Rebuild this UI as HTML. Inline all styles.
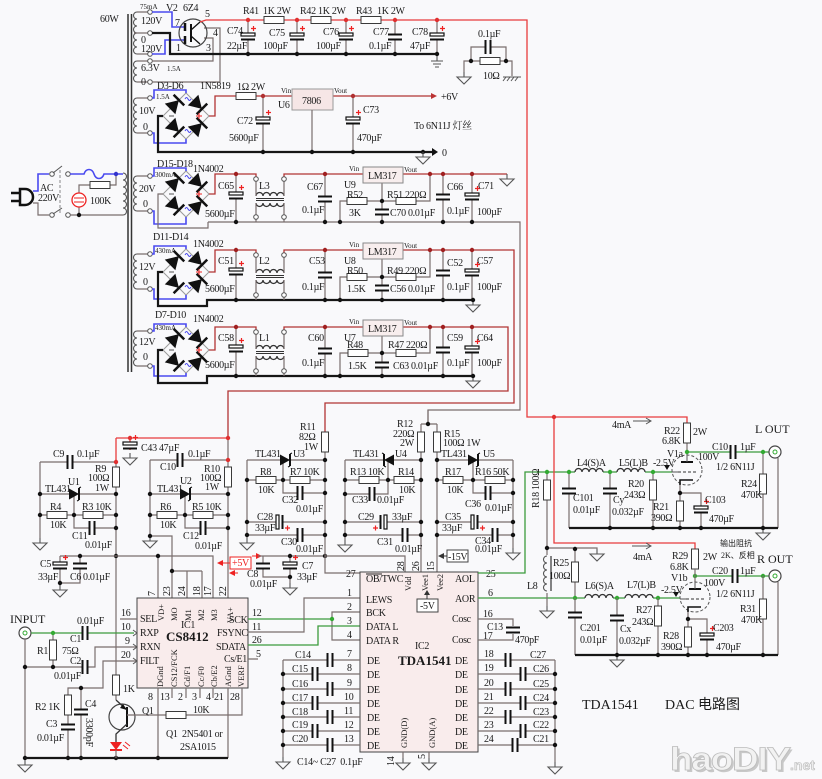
<!DOCTYPE html>
<html><head><meta charset="utf-8"><title>TDA1541 DAC</title>
<style>
html,body{margin:0;padding:0;background:#f9f9fb;width:822px;height:779px;overflow:hidden}
svg{display:block}
text{font-family:"Liberation Serif","Noto Serif CJK SC",serif;font-size:10px;fill:#1a1a1a;letter-spacing:-0.3px}
text.sm{font-size:7px;letter-spacing:0}
text.md{font-size:8.5px;letter-spacing:0}
text.lg{font-size:12px;letter-spacing:0}
text.bd{font-size:13px;font-weight:bold;letter-spacing:0}
text.ti{font-size:14px;letter-spacing:0}
.w{fill:none;stroke:#7a6e6e;stroke-width:1.2}
.k{fill:none;stroke:#161616;stroke-width:2.2}
.r{fill:none;stroke:#e83c3c;stroke-width:1.3}
.dr{fill:none;stroke:#b23434;stroke-width:1.3}
.b{fill:none;stroke:#4a4af0;stroke-width:1.6}
.g{fill:none;stroke:#3c9c3c;stroke-width:1.3}
.cl{fill:none;stroke:#555;stroke-width:1.1}
</style></head><body>
<svg xmlns="http://www.w3.org/2000/svg" width="822" height="779" viewBox="0 0 822 779">
<defs>
<g id="rh"><rect x="-10" y="-3.5" width="20" height="7" fill="#fff" stroke="#3a3a3a"/></g>
<g id="rv"><rect x="-3.5" y="-10" width="7" height="20" fill="#fff" stroke="#3a3a3a"/></g>
<g id="cv"><rect x="-7" y="-2.5" width="14" height="5" fill="#f9f9fb"/><path d="M-7,-2.5H7M-7,2.5H7" stroke="#111" stroke-width="2"/></g>
<g id="ch"><rect x="-2.5" y="-7" width="5" height="14" fill="#f9f9fb"/><path d="M-2.5,-7V7M2.5,-7V7" stroke="#111" stroke-width="2"/></g>
<g id="ev"><rect x="-7" y="-4" width="14" height="7" fill="#f9f9fb"/><rect x="-7" y="-4" width="14" height="3" fill="#fff" stroke="#111" stroke-width="1.2"/><path d="M-7,2.5H7" stroke="#111" stroke-width="2"/><path d="M3,-8.5h5M5.5,-11v5" stroke="#e22" stroke-width="1.2"/></g>
<g id="eh"><rect x="-4" y="-7" width="7" height="14" fill="#f9f9fb"/><rect x="-4" y="-7" width="3" height="14" fill="#fff" stroke="#111" stroke-width="1.2"/><path d="M2.5,-7V7" stroke="#111" stroke-width="2"/><path d="M5,6h5M7.5,3.5v5" stroke="#e22" stroke-width="1.2"/></g>
<g id="gnd"><path d="M0,0V5M-7,5H7L0,12Z" fill="none" stroke="#555" stroke-width="1.1"/></g>
<g id="earth"><path d="M0,0V5M-6,5H6M-4,8H4M-2,11H2" fill="none" stroke="#555" stroke-width="1.1"/></g>
<circle id="tp" r="2.3" fill="#fff" stroke="#555"/>
<g id="di"><path d="M-5,-6L5,0L-5,6Z" fill="#111"/><path d="M5,-6V6" stroke="#111" stroke-width="2"/></g>
<g id="br"><path d="M0,-23L23,0L0,23L-23,0Z" fill="none" stroke="#999"/>
 <use href="#di" transform="translate(-11.5,-11.5) rotate(-45) scale(1.25)"/>
 <use href="#di" transform="translate(11.5,-11.5) rotate(45) scale(1.25)"/>
 <use href="#di" transform="translate(-11.5,11.5) rotate(45) scale(1.25)"/>
 <use href="#di" transform="translate(11.5,11.5) rotate(-45) scale(1.25)"/>
 <path d="M-1,-17q1.5,-3 3,0t3,0M-1,15q1.5,-3 3,0t3,0" fill="none" stroke="#44e"/>
 <path d="M10,0h6M13,-3v6" stroke="#e22"/>
 <path d="M-17,0h5" stroke="#555"/>
</g>
<path id="lh" d="M0,0a3.5,3.5 0 0,1 7,0a3.5,3.5 0 0,1 7,0a3.5,3.5 0 0,1 7,0a3.5,3.5 0 0,1 7,0" fill="none" stroke="#333" stroke-width="1.3"/>
<g id="lc">
 <use href="#lh" transform="translate(-14,-3)"/>
 <use href="#lh" transform="translate(-14,4) scale(1,-1)"/>
 <path d="M-14,-0.5H14M-14,1.5H14" stroke="#333" stroke-width="1"/>
</g>
<g id="tl"><path d="M-5,-5.5L5,0L-5,5.5Z" fill="#111"/><path d="M5,-6V6" stroke="#111" stroke-width="2"/><path d="M5,-6l2,-1M5,6l-2,1" stroke="#111"/></g>
<g id="jk"><circle r="6" fill="#fff" stroke="#444" stroke-width="1.2"/><circle r="2" fill="none" stroke="#3a3"/></g>
<g id="tube"><circle r="15" fill="none" stroke="#555" stroke-dasharray="3,2"/>
 <path d="M-6,-8H6" stroke="#111" stroke-width="2"/><path d="M0,-8V-15" stroke="#555"/>
 <path d="M-9,2H9" stroke="#333" stroke-dasharray="3,2"/><path d="M-15,2H-9" stroke="#555"/>
 <path d="M-7,15V10H6" fill="none" stroke="#111" stroke-width="1.6"/>
</g>
<path id="c3" d="M0,0a3.5,3.5 0 0,0 0,7a3.5,3.5 0 0,0 0,7a3.5,3.5 0 0,0 0,7" fill="none" stroke="#555" stroke-width="1.1"/>
<path id="c5" d="M0,0a3.5,3.5 0 0,0 0,7a3.5,3.5 0 0,0 0,7a3.5,3.5 0 0,0 0,7a3.5,3.5 0 0,0 0,7a3.5,3.5 0 0,0 0,7" fill="none" stroke="#555" stroke-width="1.1"/>
<path id="c6" d="M0,0a3.5,3.5 0 0,0 0,7a3.5,3.5 0 0,0 0,7a3.5,3.5 0 0,0 0,7a3.5,3.5 0 0,0 0,7a3.5,3.5 0 0,0 0,7a3.5,3.5 0 0,0 0,7" fill="none" stroke="#555" stroke-width="1.1"/>
</defs>
<rect width="822" height="779" fill="#f9f9fb"/>

<!-- ============ TRANSFORMER ============ -->
<path d="M128,14V372M131.5,14V372" stroke="#333" stroke-width="1.5" fill="none"/>
<text x="100" y="22">60W</text>
<use href="#c6" x="137" y="12"/><use href="#c3" x="137" y="61"/>
<use href="#c5" x="137" y="98"/><use href="#c5" x="137" y="176"/>
<use href="#c5" x="137" y="254"/><use href="#c5" x="137" y="331"/>
<path class="cl" d="M123,173a3.5,3.5 0 0,1 0,7a3.5,3.5 0 0,1 0,7a3.5,3.5 0 0,1 0,7a3.5,3.5 0 0,1 0,7a3.5,3.5 0 0,1 0,7a3.5,3.5 0 0,1 0,7"/>
<path class="w" d="M137,12H148M134,33H148M137,54H148M137,61H148M137,82H148M137,98H148M137,133H148M137,176H148M137,211H148M137,254H148M137,289H148M137,331H148M137,366H148"/>
<g>
<use href="#tp" x="150" y="12"/><use href="#tp" x="150" y="33"/><use href="#tp" x="150" y="54"/><use href="#tp" x="150" y="61"/><use href="#tp" x="150" y="82"/>
<use href="#tp" x="150" y="98"/><use href="#tp" x="150" y="133"/><use href="#tp" x="150" y="176"/><use href="#tp" x="150" y="211"/>
<use href="#tp" x="150" y="254"/><use href="#tp" x="150" y="289"/><use href="#tp" x="150" y="331"/><use href="#tp" x="150" y="366"/>
</g>
<text class="sm" x="140" y="9">75mA</text>
<text x="141" y="24">120V</text><text x="141" y="43">0</text><text x="141" y="52">120V</text>
<text x="141" y="71">6.3V</text><text class="sm" x="167" y="71">1.5A</text><text x="141" y="85">0</text>

<!-- V2 rectifier tube -->
<text x="166" y="11">V2</text><text x="183" y="11">6Z4</text>
<text x="205" y="17">5</text><text x="175" y="26">7</text><text x="213" y="36">4</text><text x="176" y="51">1</text><text x="206" y="51">3</text>
<path class="b" d="M152,12H172V27H185"/>
<path class="b" d="M152,54H165V40H185"/>
<path class="w" d="M152,61H213V38H204M152,82H220V28H204"/>
<path class="k" d="M152,33H170V54H437"/>
<circle cx="193" cy="33" r="14" fill="none" stroke="#444" stroke-width="1.2"/>
<path d="M185,23V31M185,36V44" stroke="#111" stroke-width="2.5"/>
<path d="M191,24V42" stroke="#111" stroke-width="2"/>
<path d="M191,30L200,22M191,36L200,44" stroke="#111" stroke-width="1.3"/>
<path class="r" d="M200,22L206,20H527V417H687V423"/>
<use href="#rh" x="274" y="20"/><use href="#rh" x="321" y="20"/><use href="#rh" x="371" y="20"/>
<path class="w" d="M248,20V54M297,20V54M346,20V54M395,20V54M437,20V54"/>
<use href="#ev" x="248" y="37"/><use href="#ev" x="297" y="37"/><use href="#ev" x="346" y="37"/><use href="#cv" x="395" y="37"/><use href="#ev" x="437" y="37"/>
<g fill="#e03030"><circle cx="248" cy="20" r="2.2"/><circle cx="297" cy="20" r="2.2"/><circle cx="346" cy="20" r="2.2"/><circle cx="395" cy="20" r="2.2"/><circle cx="437" cy="20" r="2.2"/></g>
<g fill="#111"><circle cx="248" cy="54" r="2.2"/><circle cx="297" cy="54" r="2.2"/><circle cx="346" cy="54" r="2.2"/><circle cx="395" cy="54" r="2.2"/><circle cx="437" cy="54" r="2.2"/></g>
<use href="#earth" x="437" y="56"/>
<text x="243" y="14">R41</text><text x="263" y="14">1K 2W</text>
<text x="300" y="14">R42</text><text x="318" y="14">1K 2W</text>
<text x="356" y="14">R43</text><text x="377" y="14">1K 2W</text>
<text x="227" y="34">C74</text><text x="227" y="49">22µF</text>
<text x="269" y="36">C75</text><text x="263" y="49">100µF</text>
<text x="323" y="35">C76</text><text x="316" y="49">100µF</text>
<text x="373" y="35">C77</text><text x="369" y="49">0.1µF</text>
<text x="412" y="35">C78</text><text x="410" y="49">47µF</text>
<!-- snubber -->
<path class="w" d="M464,72V61H480M500,61H512V76M471,61V47H485M491,47H506V61"/>
<use href="#rh" x="490" y="61"/><use href="#ch" x="488" y="47"/>
<g fill="#111"><circle cx="471" cy="61" r="2.2"/><circle cx="506" cy="61" r="2.2"/></g>
<use href="#gnd" x="464" y="72"/>
<path d="M503,77H521M506,77l-3,4M510,77l-3,4M514,77l-3,4M518,77l-3,4" stroke="#555" fill="none"/>
<text x="478" y="37">0.1µF</text><text x="483" y="79">10Ω</text>

<!-- ============ SECTION 2: 7806 ============ -->
<use href="#br" x="186" y="116"/>
<path class="b" d="M152,98H154V90H186V93"/>
<path class="b" d="M152,133H154V143H186V139"/>
<path class="k" d="M163,116H158V152H432"/>
<path d="M432,148L438,152L432,156Z" fill="#111"/>
<path class="dr" d="M209,116H215V96H236M256,96H292M333,96H431"/>
<path d="M431,93L437,96L431,99Z" fill="#b33"/>
<use href="#rh" x="246" y="96"/>
<rect x="292" y="89" width="41" height="21" fill="#f6e6e6" stroke="#999"/>
<path class="w" d="M263,96V152M353,96V152M312,110V152"/>
<use href="#ev" x="263" y="121"/><use href="#ev" x="353" y="121"/>
<g fill="#b03030"><circle cx="263" cy="96" r="2.2"/><circle cx="353" cy="96" r="2.2"/></g>
<g fill="#111"><circle cx="263" cy="152" r="2.2"/><circle cx="312" cy="152" r="2.2"/><circle cx="353" cy="152" r="2.2"/><circle cx="423" cy="152" r="2.2"/></g>
<use href="#gnd" x="423" y="152"/>
<text x="302" y="104">7806</text>
<text class="sm" x="281" y="93">Vin</text><text x="278" y="108">U6</text><text class="sm" x="334" y="93">Vout</text>
<text x="157" y="89">D3-D6</text><text x="200" y="89">1N5819</text>
<text class="sm" x="156" y="99">1.5A</text>
<text x="139" y="114">10V</text><text x="143" y="130">0</text>
<text x="237" y="90">1Ω 2W</text>
<text x="237" y="124">C72</text><text x="229" y="141">5600µF</text>
<text x="363" y="113">C73</text><text x="357" y="141">470µF</text>
<text x="441" y="100">+6V</text><text x="442" y="156">0</text>
<text x="414" y="129">To 6N11J 灯丝</text>

<!-- ============ AC input ============ -->
<path d="M20,189h5a8,8 0 0,1 0,16h-5Z" fill="none" stroke="#111" stroke-width="2.5"/>
<path d="M11,193H20M11,201H20" stroke="#111" stroke-width="2.5"/>
<path class="b" d="M33,191H38V174H49"/>
<use href="#tp" x="52" y="174"/><path d="M53,173L62,166" stroke="#555"/><use href="#tp" x="68" y="174"/>
<path class="b" d="M70,174H84c2,-6 8,-6 10,0c2,6 8,6 10,0H123"/>
<path class="w" d="M33,203H38V215H49"/>
<use href="#tp" x="52" y="215"/><path d="M53,214L62,208" stroke="#555"/><use href="#tp" x="68" y="215"/>
<path class="w" d="M70,215H123M79,193V185H90M110,185H116V174M79,207V215"/>
<path d="M60,170V214" stroke="#888" stroke-dasharray="3,2"/>
<circle cx="79" cy="200" r="7" fill="#fff" stroke="#e22" stroke-width="1.3"/>
<path d="M74,198H84M74,202H84" stroke="#e22"/>
<use href="#rh" x="100" y="185"/>
<g fill="#111"><circle cx="116" cy="174" r="2.2" fill="#33c"/><circle cx="79" cy="215" r="2.2"/></g>
<text x="40" y="191">AC</text><text x="38" y="201">220V</text><text x="90" y="204">100K</text>

<!-- ============ SECTION 3: U9 (yt=174) ============ -->
<use href="#br" x="186" y="194"/>
<path class="b" d="M152,176H154V168H186V171"/>
<path class="b" d="M152,211H154V224H186V217"/>
<path class="w" d="M163,194H158V228H208V222"/>
<path class="dr" d="M209,194H215V174H256V178M284,178V174H363M403,174H507"/>
<use href="#gnd" x="507" y="174"/>
<use href="#lc" x="270" y="199"/>
<path class="w" d="M256,180V196M256,203V215M284,180V196M284,203V215M256,219V222M284,219V222"/>
<use href="#tp" x="256" y="179"/><use href="#tp" x="256" y="217"/><use href="#tp" x="284" y="179"/><use href="#tp" x="284" y="217"/>
<path class="w" d="M236,174V222M325,174V222M382,183V222M340,222V201H382H430V174M443,174V222M472,174V222M208,222H520V410H428V424"/>
<use href="#ev" x="236" y="196"/><use href="#cv" x="325" y="199"/>
<use href="#rh" x="357" y="201"/><use href="#rh" x="406" y="201"/><use href="#cv" x="382" y="212"/>
<use href="#cv" x="443" y="197"/><use href="#ev" x="472" y="197"/>
<rect x="363" y="167" width="40" height="16" fill="#f8eeee" stroke="#888"/>
<text x="368" y="179">LM317</text>
<g fill="#a02020"><circle cx="236" cy="174" r="2.2"/><circle cx="325" cy="174" r="2.2"/><circle cx="430" cy="174" r="2.2"/><circle cx="443" cy="174" r="2.2"/><circle cx="472" cy="174" r="2.2"/></g>
<g fill="#111"><circle cx="236" cy="222" r="2.2"/><circle cx="325" cy="222" r="2.2"/><circle cx="340" cy="222" r="2.2"/><circle cx="382" cy="222" r="2.2"/><circle cx="443" cy="222" r="2.2"/><circle cx="472" cy="222" r="2.2"/><circle cx="382" cy="201" r="2.2"/></g>
<text x="157" y="167">D15-D18</text><text x="193" y="172">1N4002</text><text class="sm" x="155" y="177">300mA</text>
<text x="139" y="192">20V</text><text x="143" y="207">0</text>
<text x="218" y="189">C65</text><text x="205" y="217">5600µF</text><text x="259" y="189">L3</text>
<text x="307" y="190">C67</text><text x="302" y="213">0.1µF</text>
<text class="sm" x="349" y="171">Vin</text><text class="sm" x="404" y="172">Vout</text>
<text x="344" y="188">U9</text><text x="347" y="198">R52</text><text x="349" y="216">3K</text>
<text x="387" y="198">R51 220Ω</text><text x="390" y="216">C70 0.01µF</text>
<text x="447" y="190">C66</text><text x="447" y="214">0.1µF</text>
<text x="478" y="189">C71</text><text x="477" y="215">100µF</text>

<!-- ============ SECTION 4: U8 (yt=250) ============ -->
<use href="#br" x="186" y="272"/>
<path class="b" d="M152,254H154V246H186V249"/>
<path class="b" d="M152,289H154V299H186V295"/>
<path class="k" d="M163,272H158V306H207V300H473"/>
<use href="#gnd" x="473" y="300"/>
<path class="dr" d="M209,272H215V250H256V254M284,254V250H363M403,250H514V403H325V432"/>
<use href="#lc" x="270" y="276"/>
<path class="w" d="M256,256V273M256,280V293M284,256V273M284,280V293M256,297V300M284,297V300"/>
<use href="#tp" x="256" y="255"/><use href="#tp" x="284" y="255"/><use href="#tp" x="256" y="295"/><use href="#tp" x="284" y="295"/>
<path class="w" d="M236,250V300M325,250V300M382,259V300M340,300V277H382H430V250M443,250V300M472,250V300"/>
<use href="#ev" x="236" y="272"/><use href="#cv" x="325" y="275"/>
<use href="#rh" x="357" y="277"/><use href="#rh" x="406" y="277"/><use href="#cv" x="382" y="288"/>
<use href="#cv" x="443" y="273"/><use href="#ev" x="472" y="273"/>
<rect x="363" y="243" width="40" height="16" fill="#f8eeee" stroke="#888"/>
<text x="368" y="255">LM317</text>
<g fill="#a02020"><circle cx="236" cy="250" r="2.2"/><circle cx="325" cy="250" r="2.2"/><circle cx="430" cy="250" r="2.2"/><circle cx="443" cy="250" r="2.2"/><circle cx="472" cy="250" r="2.2"/></g>
<g fill="#111"><circle cx="236" cy="300" r="2.2"/><circle cx="325" cy="300" r="2.2"/><circle cx="340" cy="300" r="2.2"/><circle cx="382" cy="300" r="2.2"/><circle cx="443" cy="300" r="2.2"/><circle cx="473" cy="300" r="2.2"/><circle cx="382" cy="277" r="2.2"/></g>
<text x="153" y="240">D11-D14</text><text x="193" y="247">1N4002</text><text class="sm" x="155" y="253">430mA</text>
<text x="139" y="270">12V</text><text x="143" y="285">0</text>
<text x="218" y="264">C51</text><text x="205" y="292">5600µF</text><text x="259" y="264">L2</text>
<text x="309" y="264">C53</text><text x="302" y="290">0.1µF</text>
<text class="sm" x="349" y="247">Vin</text><text class="sm" x="404" y="248">Vout</text>
<text x="344" y="264">U8</text><text x="347" y="274">R50</text><text x="347" y="292">1.5K</text>
<text x="387" y="274">R49 220Ω</text><text x="390" y="292">C56 0.01µF</text>
<text x="447" y="266">C52</text><text x="447" y="290">0.1µF</text>
<text x="477" y="264">C57</text><text x="477" y="290">100µF</text>

<!-- ============ SECTION 5: U7 (yt=327) ============ -->
<use href="#br" x="186" y="350"/>
<path class="b" d="M152,331H154V324H186V327"/>
<path class="b" d="M152,366H154V376H186V373"/>
<path class="k" d="M163,350H158V383H207V376H473"/>
<use href="#gnd" x="473" y="376"/>
<path class="dr" d="M209,350H215V327H256V331M284,331V327H363M403,327H508V391H228V438"/>
<use href="#lc" x="270" y="352"/>
<path class="w" d="M256,333V349M256,356V369M284,333V349M284,356V369M256,373V376M284,373V376"/>
<use href="#tp" x="256" y="332"/><use href="#tp" x="284" y="332"/><use href="#tp" x="256" y="371"/><use href="#tp" x="284" y="371"/>
<path class="w" d="M236,327V376M325,327V376M382,336V376M340,376V353H382H430V327M443,327V376M472,327V376"/>
<use href="#ev" x="236" y="349"/><use href="#cv" x="325" y="351"/>
<use href="#rh" x="358" y="353"/><use href="#rh" x="406" y="353"/><use href="#cv" x="382" y="365"/>
<use href="#cv" x="443" y="350"/><use href="#ev" x="472" y="350"/>
<rect x="363" y="320" width="40" height="16" fill="#f8eeee" stroke="#888"/>
<text x="368" y="332">LM317</text>
<g fill="#a02020"><circle cx="236" cy="327" r="2.2"/><circle cx="325" cy="327" r="2.2"/><circle cx="430" cy="327" r="2.2"/><circle cx="443" cy="327" r="2.2"/><circle cx="472" cy="327" r="2.2"/></g>
<g fill="#111"><circle cx="236" cy="376" r="2.2"/><circle cx="325" cy="376" r="2.2"/><circle cx="340" cy="376" r="2.2"/><circle cx="382" cy="376" r="2.2"/><circle cx="443" cy="376" r="2.2"/><circle cx="473" cy="376" r="2.2"/><circle cx="382" cy="353" r="2.2"/></g>
<text x="155" y="318">D7-D10</text><text x="193" y="322">1N4002</text><text class="sm" x="155" y="330">430mA</text>
<text x="139" y="345">12V</text><text x="143" y="360">0</text>
<text x="218" y="341">C58</text><text x="205" y="368">5600µF</text><text x="259" y="341">L1</text>
<text x="308" y="341">C60</text><text x="302" y="366">0.1µF</text>
<text class="sm" x="349" y="324">Vin</text><text class="sm" x="404" y="325">Vout</text>
<text x="344" y="341">U7</text><text x="347" y="348">R48</text><text x="348" y="369">1.5K</text>
<text x="388" y="348">R47 220Ω</text><text x="393" y="369">C63 0.01µF</text>
<text x="447" y="341">C59</text><text x="447" y="366">0.1µF</text>
<text x="477" y="341">C64</text><text x="477" y="366">100µF</text>

<!-- ============ U1 / U2 TL431 ============ -->
<path class="r" d="M116,438H228M116,438V462"/>
<path class="r" d="M130,438V450"/>
<use href="#ev" x="130" y="446"/><use href="#gnd" x="130" y="453"/>
<circle cx="130" cy="438" r="2.2" fill="#e03030"/>
<text x="141" y="451">C43 47µF</text>
<path class="w" d="M116,462V700M40,462H116M40,462V538M40,494H116M74,494V528H116M40,515H116"/>
<use href="#ch" x="70" y="462"/><use href="#rv" x="116" y="477"/><use href="#tl" x="74" y="494"/>
<use href="#rh" x="57" y="515"/><use href="#rh" x="93" y="515"/><use href="#ch" x="92" y="528"/>
<use href="#gnd" x="40" y="538"/>
<path class="w" d="M228,438V598M150,460H228M150,460V536H172V598M150,494H228M185,494V528H228M150,515H228"/>
<use href="#ch" x="180" y="460"/><use href="#rv" x="228" y="477"/><use href="#tl" x="185" y="494"/>
<use href="#rh" x="167" y="515"/><use href="#rh" x="203" y="515"/><use href="#ch" x="203" y="528"/>
<use href="#gnd" x="150" y="536"/>
<g fill="#e03030"><circle cx="116" cy="462" r="2.2"/><circle cx="228" cy="460" r="2.2"/><circle cx="228" cy="438" r="2.2"/></g>
<g fill="#111"><circle cx="40" cy="494" r="2.2"/><circle cx="116" cy="494" r="2.2"/><circle cx="40" cy="515" r="2.2"/><circle cx="74" cy="515" r="2.2"/><circle cx="116" cy="515" r="2.2"/><circle cx="116" cy="528" r="2.2"/><circle cx="116" cy="556" r="2.2"/>
<circle cx="150" cy="494" r="2.2"/><circle cx="228" cy="494" r="2.2"/><circle cx="150" cy="515" r="2.2"/><circle cx="185" cy="515" r="2.2"/><circle cx="228" cy="515" r="2.2"/><circle cx="228" cy="528" r="2.2"/><circle cx="150" cy="536" r="2.2"/></g>
<text x="53" y="457">C9</text><text x="77" y="457">0.1µF</text>
<text x="95" y="472">R9</text><text x="88" y="481">100Ω</text><text x="95" y="491">1W</text>
<text x="45" y="492">TL431</text><text x="68" y="485">U1</text>
<text x="50" y="510">R4</text><text x="50" y="528">10K</text><text x="82" y="510">R3 10K</text>
<text x="72" y="539">C11</text><text x="85" y="548">0.01µF</text>
<text x="160" y="470">C10</text><text x="188" y="457">0.1µF</text>
<text x="204" y="472">R10</text><text x="200" y="481">100Ω</text><text x="205" y="490">1W</text>
<text x="157" y="492">TL431</text><text x="180" y="484">U2</text>
<text x="160" y="510">R6</text><text x="160" y="528">10K</text><text x="192" y="510">R5 10K</text>
<text x="183" y="539">C12</text><text x="195" y="549">0.01µF</text>

<!-- y556 rail, C5 C6 -->
<path class="w" d="M60,556H213V598M60,556V585M60,583H80V556M158,556V598M172,571H202M187,571V598M202,571V598"/>
<use href="#ev" x="60" y="566"/><use href="#cv" x="80" y="566"/>
<use href="#gnd" x="60" y="585"/>
<g fill="#111"><circle cx="80" cy="556" r="2.2"/><circle cx="158" cy="556" r="2.2"/><circle cx="60" cy="583" r="2.2"/><circle cx="172" cy="571" r="2.2"/></g>
<text x="40" y="567">C5</text><text x="38" y="580">33µF</text><text x="70" y="580">C6</text><text x="83" y="580">0.01µF</text>

<!-- +5V -->
<rect x="230" y="557" width="21" height="12" fill="#fff" stroke="#e22"/>
<text x="232" y="566" style="fill:#e22">+5V</text>
<path d="M230,563H222M252,556H258M238,573H234" stroke="#e22" fill="none"/>
<path d="M217,563L223,560V566ZM262,556L256,553V559ZM229,573L235,570V576Z" fill="#e22"/>
<path class="w" d="M258,556H325M263,556V577H290M290,556V583"/>
<use href="#cv" x="263" y="566"/><use href="#ev" x="290" y="566"/><use href="#gnd" x="290" y="583"/>
<g fill="#111"><circle cx="290" cy="556" r="2.2"/><circle cx="290" cy="577" r="2.2"/><circle cx="325" cy="556" r="2.2"/></g>
<text x="247" y="577">C8</text><text x="250" y="587">0.01µF</text><text x="302" y="569">C7</text><text x="297" y="580">33µF</text>

<!-- ============ U3 ============ -->
<path class="w" d="M325,432V573H360M247,460H325M283,460V493H325M247,480H325M247,522H325M247,535H325M247,460V538M325,556H405V572"/>
<use href="#rv" x="325" y="442"/><use href="#tl" x="285" y="460"/>
<use href="#rh" x="266" y="480"/><use href="#rh" x="300" y="480"/><use href="#ch" x="300" y="493"/>
<use href="#eh" x="280" y="522"/><use href="#ch" x="300" y="535"/><use href="#gnd" x="247" y="538"/>
<g fill="#111"><circle cx="247" cy="480" r="2.2"/><circle cx="283" cy="480" r="2.2"/><circle cx="325" cy="460" r="2.2"/><circle cx="325" cy="480" r="2.2"/><circle cx="325" cy="493" r="2.2"/><circle cx="247" cy="522" r="2.2"/><circle cx="325" cy="522" r="2.2"/><circle cx="247" cy="535" r="2.2"/><circle cx="325" cy="535" r="2.2"/></g>
<text x="300" y="430">R11</text><text x="299" y="440">82Ω</text><text x="304" y="450">1W</text>
<text x="255" y="457">TL431</text><text x="293" y="457">U3</text>
<text x="260" y="475">R8</text><text x="258" y="493">10K</text><text x="290" y="475">R7 10K</text>
<text x="282" y="503">C32</text><text x="296" y="512">0.01µF</text>
<text x="257" y="520">C28</text><text x="255" y="531">33µF</text>
<text x="281" y="545">C30</text><text x="296" y="552">0.01µF</text>

<!-- ============ U4 ============ -->
<path class="w" d="M428,410V424M421,424H437M421,424V572M437,424V572M345,460H421M388,460V494H345M345,480H421M345,522H421M345,535H421M345,460V540"/>
<use href="#rv" x="421" y="442"/><use href="#rv" x="437" y="442"/>
<use href="#tl" transform="translate(389,460) scale(-1,1)"/>
<use href="#rh" x="369" y="480"/><use href="#rh" x="404" y="480"/><use href="#ch" x="372" y="494"/>
<use href="#eh" transform="translate(383,522) scale(-1,1)"/><use href="#ch" x="405" y="535"/><use href="#gnd" x="345" y="540"/>
<g fill="#111"><circle cx="428" cy="424" r="2.2"/><circle cx="345" cy="480" r="2.2"/><circle cx="388" cy="480" r="2.2"/><circle cx="421" cy="460" r="2.2"/><circle cx="421" cy="480" r="2.2"/><circle cx="345" cy="494" r="2.2"/><circle cx="345" cy="522" r="2.2"/><circle cx="421" cy="522" r="2.2"/><circle cx="345" cy="535" r="2.2"/><circle cx="421" cy="535" r="2.2"/></g>
<text x="397" y="427">R12</text><text x="393" y="437">220Ω</text><text x="400" y="446">2W</text>
<text x="444" y="437">R15</text><text x="443" y="446">100Ω 1W</text>
<text x="353" y="457">TL431</text><text x="395" y="457">U4</text>
<text x="350" y="475">R13 10K</text><text x="398" y="475">R14</text><text x="399" y="493">10K</text>
<text x="352" y="503">C33</text><text x="377" y="503">0.01µF</text>
<text x="358" y="520">C29</text><text x="392" y="520">33µF</text>
<text x="377" y="545">C31</text><text x="395" y="552">0.01µF</text>

<!-- ============ U5 ============ -->
<path class="w" d="M437,460H513M473,460V493H513M437,480H513M437,522H513M437,535H513M513,460V548"/>
<use href="#tl" x="473" y="460"/>
<use href="#rh" x="453" y="480"/><use href="#rh" x="495" y="480"/><use href="#ch" x="488" y="493"/>
<use href="#eh" x="475" y="522"/><use href="#ch" x="495" y="535"/><use href="#gnd" x="513" y="548"/>
<g fill="#111"><circle cx="437" cy="460" r="2.2"/><circle cx="437" cy="480" r="2.2"/><circle cx="473" cy="480" r="2.2"/><circle cx="513" cy="480" r="2.2"/><circle cx="513" cy="493" r="2.2"/><circle cx="437" cy="522" r="2.2"/><circle cx="513" cy="522" r="2.2"/><circle cx="437" cy="535" r="2.2"/><circle cx="513" cy="535" r="2.2"/></g>
<text x="441" y="457">TL431</text><text x="483" y="457">U5</text>
<text x="445" y="475">R17</text><text x="447" y="493">10K</text><text x="475" y="475">R16 50K</text>
<text x="465" y="507">C36</text><text x="485" y="511">0.01µF</text>
<text x="445" y="520">C35</text><text x="442" y="531">33µF</text>
<text x="475" y="544">C34</text><text x="475" y="552">0.01µF</text>
<rect x="447" y="550" width="21" height="12" fill="#fff" stroke="#444"/>
<text x="448" y="560">-15V</text>
<path d="M447,556H442" stroke="#333"/><path d="M438,556L444,553V559Z" fill="#333"/>

<!-- ============ IC1 CS8412 ============ -->
<rect x="137" y="598" width="111" height="90" fill="#f9ecec" stroke="#444"/>
<text transform="translate(155,596) rotate(-90)">7</text>
<text transform="translate(170,596) rotate(-90)">23</text>
<text transform="translate(185,596) rotate(-90)">24</text>
<text transform="translate(200,596) rotate(-90)">18</text>
<text transform="translate(211,596) rotate(-90)">17</text>
<text transform="translate(226,596) rotate(-90)">22</text>
<text class="md" transform="translate(164,621) rotate(-90)">VD+</text>
<text class="md" transform="translate(177,621) rotate(-90)">MO</text>
<text class="md" transform="translate(191,621) rotate(-90)">M1</text>
<text class="md" transform="translate(204,621) rotate(-90)">M2</text>
<text class="md" transform="translate(217,621) rotate(-90)">M3</text>
<text class="md" transform="translate(233,623) rotate(-90)">VA+</text>
<text class="md" transform="translate(163,687) rotate(-90)">DGnd</text>
<text class="md" transform="translate(177,687) rotate(-90)">CS12/FCK</text>
<text class="md" transform="translate(190,687) rotate(-90)">Cd/F1</text>
<text class="md" transform="translate(204,687) rotate(-90)">Cc/F0</text>
<text class="md" transform="translate(217,687) rotate(-90)">Cb/E2</text>
<text class="md" transform="translate(231,687) rotate(-90)">AGnd</text>
<text class="md" transform="translate(244,687) rotate(-90)">VERF</text>
<text x="140" y="622">SEL</text><text x="140" y="636">RXP</text><text x="140" y="650">RXN</text><text x="140" y="664">FILT</text>
<text x="181" y="628">IC1</text><text class="bd" x="166" y="641">CS8412</text>
<text x="229" y="623">SCK</text><text x="217" y="636">FSYNC</text><text x="216" y="650">SDATA</text><text x="224" y="662">Cs/E1</text>
<text x="121" y="616">16</text><text x="121" y="630">10</text><text x="125" y="644">9</text><text x="121" y="658">20</text>
<text x="252" y="616">12</text><text x="252" y="630">11</text><text x="252" y="643">26</text><text x="256" y="657">5</text>
<text x="148" y="700">8</text><text x="160" y="700">13</text><text x="178" y="700">2</text><text x="192" y="700">3</text><text x="206" y="700">4</text><text x="214" y="700">21</text><text x="230" y="700">28</text>
<path class="w" d="M120,619H137M25,667H95V647H137M137,661H103V688H68V758M81,688V758M158,688V758M172,688V698M186,688V698M200,688V698M213,688V698M228,688V758"/>
<path d="M133,630L137,633L133,636M133,644L137,647L133,650M133,658L137,661L133,664" stroke="#555" fill="none"/>
<!-- INPUT -->
<text class="lg" x="10" y="623">INPUT</text>
<use href="#jk" x="25" y="633"/>
<path class="g" d="M31,633H134"/>
<path class="w" d="M25,639V758M53,633V667"/>
<use href="#ch" x="85" y="633"/><use href="#ch" x="85" y="667"/><use href="#rv" x="53" y="650"/>
<use href="#rv" x="68" y="705"/><use href="#cv" x="68" y="727"/><use href="#cv" x="81" y="712"/>
<g fill="#111"><circle cx="53" cy="633" r="2.2" fill="#3a3"/><circle cx="53" cy="667" r="2.2"/><circle cx="25" cy="667" r="2.2"/><circle cx="81" cy="688" r="2.2"/>
<circle cx="25" cy="758" r="2.2"/><circle cx="68" cy="758" r="2.2"/><circle cx="81" cy="758" r="2.2"/><circle cx="116" cy="758" r="2.2"/><circle cx="158" cy="758" r="2.2"/></g>
<text x="77" y="624">0.01µF</text><text x="70" y="642">C1</text><text x="37" y="654">R1</text><text x="62" y="654">75Ω</text>
<text x="70" y="664">C2</text><text x="54" y="679">0.01µF</text>
<text x="35" y="710">R2 1K</text><text x="85" y="707">C4</text><text x="46" y="727">C3</text><text x="37" y="741">0.01µF</text>
<text transform="translate(86,718) rotate(90)">3300pF</text>
<path class="k" d="M25,758H228"/>
<use href="#gnd" x="25" y="760"/>
<!-- Q1 -->
<use href="#rv" x="116" y="685"/>
<circle cx="122" cy="717" r="13" fill="none" stroke="#444" stroke-width="1.2"/>
<path d="M127,707V727" stroke="#111" stroke-width="2"/>
<path d="M116,700L127,710M127,724L116,734V742" stroke="#333" stroke-width="1.3" fill="none"/>
<path d="M127,710L120,708L123,704Z" fill="#111"/>
<path class="w" d="M127,715H166M186,715H242V688"/>
<use href="#rh" x="176" y="715"/>
<path d="M110,742H122L116,750Z" fill="#e22"/><path d="M110,750H122" stroke="#e22" stroke-width="2"/>
<path d="M123,745l5,4M125,742l5,4" stroke="#e22"/>
<path class="w" d="M116,750V758"/>
<text x="123" y="692">1K</text><text x="142" y="714">Q1</text><text x="193" y="713">10K</text>
<text x="166" y="737">Q1 &#160;2N5401 or</text><text x="180" y="750">2SA1015</text>
<!-- IC1 to IC2 -->
<path class="g" d="M248,619H332"/>
<path class="w" d="M248,632H304V598H360M248,659H258M360,612H332V640H360"/>
<path class="g" d="M248,645H318V626H360"/>
<circle cx="332" cy="619" r="2.2" fill="#3a3"/>

<!-- ============ IC2 TDA1541 ============ -->
<rect x="360" y="572" width="118" height="180" fill="#f9ecec" stroke="#444"/>
<text transform="translate(404,571) rotate(-90)">28</text>
<text transform="translate(419,571) rotate(-90)">26</text>
<text transform="translate(434,571) rotate(-90)">15</text>
<text x="366" y="582">OB/TWC</text><path d="M366,574H382" stroke="#222"/>
<text x="366" y="603">LEWS</text><text x="366" y="616">BCK</text><text x="366" y="630">DATA L</text><text x="366" y="644">DATA R</text>
<text class="md" transform="translate(411,591) rotate(-90)">Vdd</text>
<text class="md" transform="translate(428,591) rotate(-90)">Vee1</text>
<text class="md" transform="translate(443,591) rotate(-90)">Vee2</text>
<rect x="417" y="599" width="21" height="13" fill="#fff" stroke="#444"/>
<text x="420" y="609">-5V</text>
<path d="M427,599V594" stroke="#333"/><path d="M424,595L427,590L430,595Z" fill="#333"/>
<text x="455" y="582">AOL</text><text x="455" y="602">AOR</text><text x="452" y="622">Cosc</text><text x="452" y="643">Cosc</text>
<text x="415" y="649">IC2</text><text class="bd" x="398" y="665">TDA1541</text>
<text x="346" y="577">27</text><text x="347" y="596">1</text><text x="347" y="610">2</text><text x="347" y="624">3</text><text x="347" y="638">4</text>
<text x="486" y="577">25</text><text x="488" y="596">6</text><text x="483" y="617">16</text><text x="483" y="639">17</text>
<path class="w" d="M478,619H513V626M513,634V640H478"/>
<use href="#cv" x="513" y="630"/>
<text x="487" y="630">C13</text><text x="515" y="643">470pF</text>
<!-- DE rows -->
<path class="w" d="M283,660V757M283,660H360M283,674H360M283,689H360M283,703H360M283,717H360M283,731H360M283,745H360"/>
<path class="w" d="M555,660V762M478,660H555M478,674H555M478,689H555M478,703H555M478,717H555M478,731H555M478,745H555"/>
<use href="#ch" x="330" y="660"/><use href="#ch" x="315" y="674"/><use href="#ch" x="330" y="689"/><use href="#ch" x="315" y="703"/><use href="#ch" x="330" y="717"/><use href="#ch" x="315" y="731"/><use href="#ch" x="330" y="745"/>
<use href="#ch" x="508" y="660"/><use href="#ch" x="523" y="674"/><use href="#ch" x="508" y="689"/><use href="#ch" x="523" y="703"/><use href="#ch" x="508" y="717"/><use href="#ch" x="523" y="731"/><use href="#ch" x="515" y="745"/>
<g fill="#111"><circle cx="283" cy="674" r="2.2"/><circle cx="283" cy="689" r="2.2"/><circle cx="283" cy="703" r="2.2"/><circle cx="283" cy="717" r="2.2"/><circle cx="283" cy="731" r="2.2"/><circle cx="283" cy="745" r="2.2"/>
<circle cx="555" cy="674" r="2.2"/><circle cx="555" cy="689" r="2.2"/><circle cx="555" cy="703" r="2.2"/><circle cx="555" cy="717" r="2.2"/><circle cx="555" cy="731" r="2.2"/><circle cx="555" cy="745" r="2.2"/></g>
<use href="#gnd" x="283" y="757"/><use href="#gnd" x="555" y="762"/>
<g>
<text x="367" y="664">DE</text><text x="367" y="678">DE</text><text x="367" y="693">DE</text><text x="367" y="707">DE</text><text x="367" y="721">DE</text><text x="367" y="735">DE</text><text x="367" y="749">DE</text>
<text x="455" y="664">DE</text><text x="455" y="678">DE</text><text x="455" y="693">DE</text><text x="455" y="707">DE</text><text x="455" y="721">DE</text><text x="455" y="735">DE</text><text x="455" y="749">DE</text>
<text x="347" y="657">7</text><text x="347" y="671">8</text><text x="347" y="686">9</text><text x="344" y="700">10</text><text x="344" y="714">11</text><text x="344" y="728">12</text><text x="344" y="742">13</text>
<text x="484" y="657">18</text><text x="484" y="671">19</text><text x="484" y="686">20</text><text x="484" y="700">21</text><text x="484" y="714">22</text><text x="484" y="728">23</text><text x="484" y="742">24</text>
<text x="295" y="658">C14</text><text x="292" y="672">C15</text><text x="292" y="687">C16</text><text x="292" y="701">C17</text><text x="292" y="715">C18</text><text x="292" y="728">C19</text><text x="292" y="742">C20</text>
<text x="530" y="658">C27</text><text x="533" y="672">C26</text><text x="533" y="687">C25</text><text x="533" y="701">C24</text><text x="533" y="715">C23</text><text x="533" y="728">C22</text><text x="533" y="742">C21</text>
</g>
<text x="297" y="765">C14~ C27 &#160;0.1µF</text>
<path class="w" d="M403,752V758M429,752V758"/>
<use href="#gnd" x="403" y="758"/><use href="#gnd" x="429" y="758"/>
<text class="md" transform="translate(407,748) rotate(-90)">GND(D)</text>
<text class="md" transform="translate(435,748) rotate(-90)">GND(A)</text>
<text transform="translate(394,766) rotate(-90)">14</text>
<text transform="translate(425,759) rotate(-90)">5</text>

<!-- ============ OUTPUT STAGE ============ -->
<path class="g" d="M478,573H525V472H575M603,472H617M645,472H672"/>
<path class="g" d="M478,598H585M613,598H625M653,598H680"/>
<use href="#lh" x="575" y="472"/><use href="#lh" x="617" y="472"/>
<use href="#lh" x="585" y="598"/><use href="#lh" x="625" y="598"/>
<path class="r" d="M554,417V543H695V549"/>
<circle cx="554" cy="417" r="2.2" fill="#e03030"/>
<!-- L channel -->
<path class="w" d="M687,443V455"/>
<use href="#rv" x="687" y="433"/>
<use href="#tube" x="687" y="470"/>
<path class="g" d="M687,452H769"/>
<use href="#ch" x="733" y="452"/>
<use href="#jk" x="775" y="452"/>
<path class="w" d="M763,452V528M778,458V528M569,472V528M610,472V528M653,472V528M680,485V528M680,493H701V528M547,472V606M547,548H597V549M575,549V598"/>
<use href="#rv" x="763" y="484"/>
<use href="#cv" x="569" y="491"/><use href="#cv" x="610" y="491"/><use href="#rv" x="653" y="490"/>
<use href="#rv" x="680" y="511"/><use href="#ev" x="701" y="510"/>
<path class="k" d="M569,528H778"/>
<use href="#gnd" x="763" y="528"/>
<use href="#rv" x="547" y="490"/>
<rect x="540" y="555" width="8" height="38" fill="#f9f9fb"/>
<use href="#c5" x="547" y="556"/>
<path d="M551,556V591" stroke="#333" stroke-width="1.2"/>
<use href="#gnd" x="547" y="606"/>
<use href="#gnd" x="597" y="549"/>
<use href="#rv" x="575" y="572"/>
<path d="M664,465H670L667,470Z" fill="#111"/>
<g fill="#3a3"><circle cx="687" cy="452" r="2.2"/><circle cx="763" cy="452" r="2.2"/><circle cx="547" cy="472" r="2.2"/><circle cx="569" cy="472" r="2.2"/><circle cx="610" cy="472" r="2.2"/><circle cx="653" cy="472" r="2.2"/><circle cx="575" cy="598" r="2.2"/><circle cx="617" cy="598" r="2.2"/><circle cx="658" cy="598" r="2.2"/><circle cx="695" cy="576" r="2.2"/><circle cx="763" cy="576" r="2.2"/></g>
<g fill="#111"><circle cx="610" cy="528" r="2.2"/><circle cx="653" cy="528" r="2.2"/><circle cx="680" cy="528" r="2.2"/><circle cx="701" cy="528" r="2.2"/><circle cx="763" cy="528" r="2.2"/><circle cx="680" cy="493" r="2.2"/><circle cx="547" cy="548" r="2.2"/><circle cx="575" cy="549" r="2.2"/></g>
<text x="612" y="428">4mA</text>
<path d="M633,421H650M646,418L651,421L646,424" stroke="#555" fill="none"/>
<text x="664" y="434">R22</text><text x="662" y="444">6.8K</text><text x="693" y="435">2W</text>
<text class="lg" x="755" y="433">L OUT</text>
<text x="712" y="450">C10</text><text x="740" y="450">1µF</text>
<text x="667" y="457">V1a</text><text x="653" y="466">-2.5V</text><text x="698" y="460">100V</text><text x="716" y="470">1/2 6N11J</text>
<text x="577" y="466">L4(S)A</text><text x="619" y="466">L5(L)B</text>
<text x="628" y="487">R20</text><text x="624" y="498">243Ω</text>
<text x="573" y="501">C101</text><text x="573" y="513">0.01µF</text>
<text x="613" y="503">Cy</text><text x="612" y="515">0.032µF</text>
<text x="653" y="510">R21</text><text x="651" y="521">390Ω</text>
<text x="705" y="503">C103</text><text x="709" y="522">470µF</text>
<text x="741" y="487">R24</text><text x="741" y="498">470K</text>
<text transform="translate(539,508) rotate(-90)">R18 100Ω</text>
<text x="553" y="566">R25</text><text x="549" y="579">100Ω</text>
<text x="527" y="589">L8</text>
<!-- R channel -->
<use href="#rv" x="695" y="559"/>
<path class="w" d="M695,569V582"/>
<use href="#tube" x="695" y="597"/>
<path class="g" d="M695,576H769"/>
<use href="#ch" x="735" y="576"/>
<use href="#jk" x="775" y="576"/>
<path class="w" d="M763,576V655M778,582V655M575,598V655M617,598V655M658,598V655M688,612V655M688,619H707V655"/>
<use href="#rv" x="763" y="609"/>
<use href="#cv" x="575" y="615"/><use href="#cv" x="617" y="618"/><use href="#rv" x="658" y="616"/>
<use href="#rv" x="688" y="637"/><use href="#ev" x="707" y="637"/>
<path class="k" d="M575,655H778"/>
<use href="#gnd" x="617" y="655"/>
<path d="M673,592H679L676,597Z" fill="#111"/>
<g fill="#111"><circle cx="617" cy="655" r="2.2"/><circle cx="658" cy="655" r="2.2"/><circle cx="688" cy="655" r="2.2"/><circle cx="707" cy="655" r="2.2"/><circle cx="763" cy="655" r="2.2"/><circle cx="688" cy="619" r="2.2"/></g>
<text x="633" y="560">4mA</text>
<path d="M632,546H650M646,543L651,546L646,549" stroke="#555" fill="none"/>
<text x="720" y="546" style="font-family:'Noto Sans CJK SC',sans-serif;font-size:8px;letter-spacing:0">输出阻抗</text>
<text x="721" y="558" style="font-family:'Liberation Serif','Noto Sans CJK SC',sans-serif;font-size:8px;letter-spacing:0">2K、反相</text>
<text class="lg" x="757" y="563">R OUT</text>
<text x="672" y="559">R29</text><text x="670" y="570">6.8K</text><text x="703" y="560">2W</text>
<text x="712" y="574">C20</text><text x="740" y="574">1µF</text>
<text x="671" y="581">V1b</text><text x="661" y="593">-2.5V</text><text x="704" y="586">100V</text><text x="716" y="597">1/2 6N11J</text>
<text x="740" y="612">R31</text><text x="741" y="623">470K</text>
<text x="585" y="589">L6(S)A</text><text x="627" y="588">L7(L)B</text>
<text x="580" y="631">C201</text><text x="580" y="643">0.01µF</text>
<text x="620" y="632">Cx</text><text x="619" y="644">0.032µF</text>
<text x="636" y="613">R27</text><text x="632" y="625">243Ω</text>
<text x="663" y="639">R28</text><text x="661" y="650">390Ω</text>
<text x="713" y="631">C203</text><text x="716" y="650">470µF</text>

<!-- title & logo -->
<text class="ti" x="582" y="709">TDA1541</text>
<text class="ti" x="665" y="709" style="font-family:'Liberation Serif','Noto Sans CJK SC',sans-serif">DAC 电路图</text>
<text x="672" y="772" style="font-family:'Liberation Sans',sans-serif;font-size:32px;font-weight:bold;fill:#c8c8c8;letter-spacing:-1px" textLength="120" lengthAdjust="spacingAndGlyphs">haoDIY</text>
<text x="670" y="770" style="font-family:'Liberation Sans',sans-serif;font-size:32px;font-weight:bold;fill:#f2f2f2;stroke:#bdbdbd;stroke-width:0.8;letter-spacing:-1px" textLength="120" lengthAdjust="spacingAndGlyphs">haoDIY</text>
<text x="790" y="770" style="font-family:'Liberation Sans',sans-serif;font-size:14px;font-weight:bold;fill:#efefef;stroke:#b8b8b8;stroke-width:0.6;letter-spacing:0">.net</text>
</svg>
</body></html>
